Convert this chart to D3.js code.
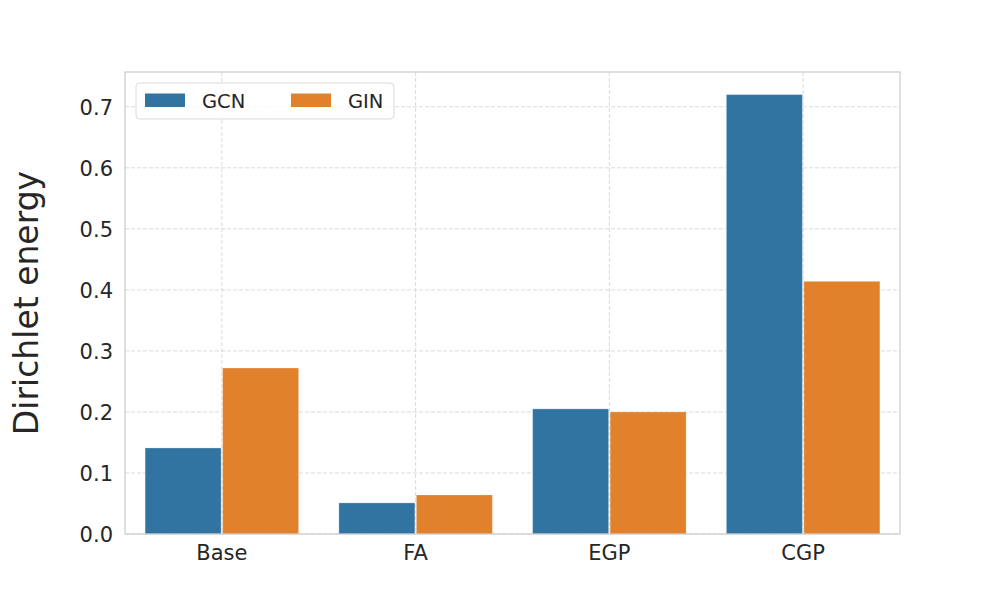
<!DOCTYPE html>
<html>
<head>
<meta charset="utf-8">
<script src="https://cdn.jsdelivr.net/npm/d3@7"></script>
<style>
  body { margin: 0; background: #fff; }
  text { font-family: "DejaVu Sans", sans-serif; fill: #262626; }
</style>
</head>
<body>
<div id="chart"></div>
<script>
// Data
const categories = ["Base", "FA", "EGP", "CGP"];
const models = ["GCN", "GIN"];
const gcnValues = [0.141, 0.051, 0.205, 0.720];
const ginValues = [0.272, 0.064, 0.200, 0.414];
const yTicks = [0, 0.1, 0.2, 0.3, 0.4, 0.5, 0.6, 0.7];
const colors = ["#3274a1", "#e1812c"];

const rows = categories.map((c, i) => ({ cat: c, GCN: gcnValues[i], GIN: ginValues[i] }));

// Layout
const W = 1000, H = 600;
const margin = { top: 72, right: 100, bottom: 66, left: 125 };
const width = W - margin.left - margin.right,
      height = H - margin.top - margin.bottom;

const svg = d3.select("#chart")
  .append("svg")
  .attr("width", W)
  .attr("height", H);

const g = svg.append("g")
  .attr("transform", `translate(${margin.left},${margin.top})`);

// Scales
const x = d3.scaleBand()
  .domain(categories)
  .range([0, width])
  .paddingInner(0.2)
  .paddingOuter(0.1);

const xSub = d3.scaleBand()
  .domain(models)
  .range([0, x.bandwidth()]);

const y = d3.scaleLinear()
  .domain([0, 0.757])
  .range([height, 0]);

const color = d3.scaleOrdinal().domain(models).range(colors);

// Grid lines (dashed)
g.append("g")
  .selectAll("line")
  .data(yTicks)
  .enter()
  .append("line")
  .attr("x1", 0).attr("x2", width)
  .attr("y1", d => y(d)).attr("y2", d => y(d))
  .attr("stroke", "#dadada")
  .attr("stroke-width", 1)
  .attr("stroke-dasharray", "4,2");

g.append("g")
  .selectAll("line")
  .data(categories)
  .enter()
  .append("line")
  .attr("x1", d => x(d) + x.bandwidth() / 2)
  .attr("x2", d => x(d) + x.bandwidth() / 2)
  .attr("y1", 0).attr("y2", height)
  .attr("stroke", "#dadada")
  .attr("stroke-width", 1)
  .attr("stroke-dasharray", "4,2");

// Bars
const groups = g.append("g")
  .selectAll("g")
  .data(rows)
  .enter()
  .append("g")
  .attr("transform", d => `translate(${x(d.cat)},0)`);

groups.selectAll("rect")
  .data(d => models.map(m => ({ model: m, value: d[m] })))
  .enter()
  .append("rect")
  .attr("x", d => xSub(d.model) + 0.75)
  .attr("width", xSub.bandwidth() - 1.5)
  .attr("y", d => y(d.value))
  .attr("height", d => y(0) - y(d.value))
  .attr("fill", d => color(d.model))
  .attr("stroke", "#ffffff")
  .attr("stroke-opacity", 0.25)
  .attr("stroke-width", 1);

// Frame
g.append("rect")
  .attr("x", 0).attr("y", 0)
  .attr("width", width).attr("height", height)
  .attr("fill", "none")
  .attr("stroke", "#cccccc")
  .attr("stroke-width", 1.25);

// Axes
const yAxis = g.append("g")
  .call(d3.axisLeft(y).tickValues(yTicks).tickFormat(d3.format(".1f")).tickSize(0).tickPadding(12));
yAxis.select(".domain").remove();
yAxis.selectAll("text")
  .style("font-size", "21px")
  .attr("dy", "0.36em")
  .attr("fill", "#262626");

const xAxis = g.append("g")
  .attr("transform", `translate(0,${height})`)
  .call(d3.axisBottom(x).tickSize(0).tickPadding(11));
xAxis.select(".domain").remove();
xAxis.selectAll("text")
  .style("font-size", "21px")
  .attr("fill", "#262626");

// Y label
svg.append("text")
  .attr("transform", `translate(38,${margin.top + height / 2}) rotate(-90)`)
  .attr("text-anchor", "middle")
  .style("font-size", "33px")
  .text("Dirichlet energy");

// Legend
const legend = g.append("g").attr("transform", "translate(11,11)");
legend.append("rect")
  .attr("width", 258).attr("height", 36)
  .attr("rx", 4)
  .attr("fill", "#ffffff")
  .attr("fill-opacity", 0.8)
  .attr("stroke", "#d9d9d9")
  .attr("stroke-width", 1);

const items = legend.selectAll(".item")
  .data(models)
  .enter()
  .append("g")
  .attr("class", "item")
  .attr("transform", (d, i) => `translate(${9 + i * 146},0)`);

items.append("rect")
  .attr("y", 10.5)
  .attr("width", 40).attr("height", 13.5)
  .attr("fill", d => color(d));

items.append("text")
  .attr("x", 57)
  .attr("y", 24.5)
  .style("font-size", "19.5px")
  .text(d => d);
</script>
</body>
</html>
